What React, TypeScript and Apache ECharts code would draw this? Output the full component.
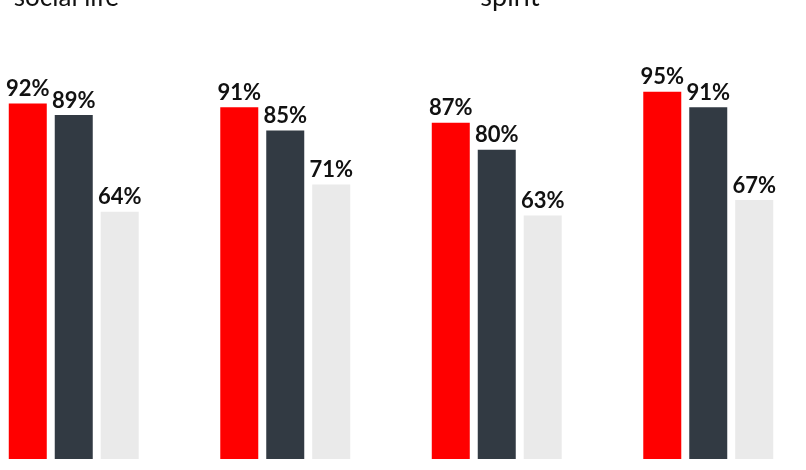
import React, { useEffect, useRef } from "react";
import * as echarts from "echarts";

const categories = ["social life", "group 2", "spirit", "group 4"];
const seriesA = [92, 91, 87, 95];
const seriesB = [89, 85, 80, 91];
const seriesC = [64, 71, 63, 67];
const titles = ["social life", "spirit"];

export default function App() {
  const ref = useRef<HTMLDivElement>(null);
  useEffect(() => {
    if (!ref.current) return;
    const chart = echarts.init(ref.current, null, { renderer: "svg" });
    const label = {
      show: true,
      position: "top" as const,
      distance: 5,
      formatter: "{c}%",
      color: "#111111",
      fontFamily: "Lato",
      fontWeight: "bold" as const,
      fontSize: 22,
    };
    chart.setOption({
      animation: false,
      grid: { left: 0, right: 0, top: 72.5, bottom: 11, containLabel: false },
      xAxis: {
        type: "category",
        data: categories,
        show: false,
      },
      yAxis: { type: "value", min: 0, max: 100, show: false },
      graphic: [
        {
          type: "text",
          x: 151,
          y: 9,
          style: {
            text: titles[0],
            fontFamily: "Lato",
            fontSize: 26,
            fill: "#111111",
            align: "right",
            verticalAlign: "bottom",
          },
        },
        {
          type: "text",
          x: 542,
          y: 9,
          style: {
            text: titles[1],
            fontFamily: "Lato",
            fontSize: 27,
            fill: "#111111",
            align: "center",
            verticalAlign: "bottom",
          },
        },
      ],
      series: [
        { type: "bar", data: seriesA, barWidth: 38, barGap: "21%", itemStyle: { color: "#FF0000" }, label },
        { type: "bar", data: seriesB, barWidth: 38, barGap: "21%", itemStyle: { color: "#323A43" }, label },
        { type: "bar", data: seriesC, barWidth: 38, barGap: "21%", itemStyle: { color: "#EAEAEA" }, label },
      ],
    });
    return () => chart.dispose();
  }, []);
  return (
    <div
      ref={ref}
      style={{ position: "fixed", left: -32, top: 0, width: 846, height: 470 }}
    />
  );
}
